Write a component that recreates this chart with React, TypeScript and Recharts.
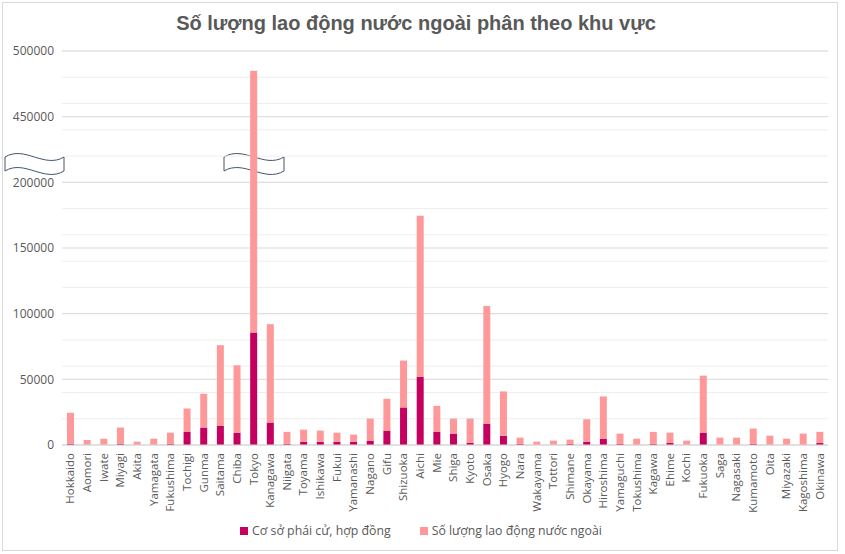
import React from 'react';
import {BarChart, Bar, XAxis, YAxis, CartesianGrid, Legend} from 'recharts';

const prefectures = [
    'Hokkaido', 'Aomori', 'Iwate', 'Miyagi', 'Akita', 'Yamagata', 'Fukushima', 'Tochigi', 'Gunma',
    'Saitama', 'Chiba', 'Tokyo', 'Kanagawa', 'Niigata', 'Toyama', 'Ishikawa', 'Fukui', 'Yamanashi',
    'Nagano', 'Gifu', 'Shizuoka', 'Aichi', 'Mie', 'Shiga', 'Kyoto', 'Osaka', 'Hyogo', 'Nara',
    'Wakayama', 'Tottori', 'Shimane', 'Okayama', 'Hiroshima', 'Yamaguchi', 'Tokushima', 'Kagawa',
    'Ehime', 'Kochi', 'Fukuoka', 'Saga', 'Nagasaki', 'Kumamoto', 'Oita', 'Miyazaki', 'Kagoshima',
    'Okinawa',
];

// "Cơ sở phái cử, hợp đồng"
const dispatchWorkers = [
    800, 200, 200, 800, 200, 200, 800, 10200, 13300,
    14500, 9400, 85700, 17100, 800, 2500, 2500, 2500, 2500,
    3300, 11000, 28600, 52000, 10200, 8700, 1800, 16300, 7100, 800,
    200, 200, 800, 2500, 4800, 800, 200, 800,
    1500, 200, 9400, 200, 200, 800, 200, 200, 200,
    1500,
];

// "Số lượng lao động nước ngoài" (top of each column)
const foreignWorkers = [
    24500, 3800, 4800, 13300, 2500, 4800, 9400, 27800, 39000,
    76000, 60700, 485000, 92000, 10000, 11700, 11000, 9400, 7900,
    20100, 35200, 64300, 174500, 29800, 20100, 20100, 105800, 40800, 5600,
    2500, 3300, 4100, 19600, 37000, 8700, 4800, 10000,
    9400, 3300, 52800, 5600, 5600, 12500, 7100, 4800, 8700,
    10000,
];

const yTicks = [0, 50000, 100000, 150000, 200000, 450000, 500000];

// broken axis: everything above BREAK_TOP is pulled down by BREAK_GAP
const BREAK_TOP = 400000;
const BREAK_GAP = 200000;
const toDisplay = (v: number) => (v > BREAK_TOP ? v - BREAK_GAP : v);
const fromDisplay = (v: number) => (v > BREAK_TOP - BREAK_GAP ? v + BREAK_GAP : v);

const DARK = '#C5005F';
const PINK = '#FF9999';
const TEXT = '#595959';
const FONT = '"Open Sans", "Noto Sans", sans-serif';

const data = prefectures.map((name, i) => ({
    name,
    dispatch: dispatchWorkers[i],
    rest: toDisplay(foreignWorkers[i]) - dispatchWorkers[i],
}));

const minorLines = Array.from({length: 31}, (_, i) => i * 10000);

const XTick = (props: any) => {
    const {x, y, payload} = props;
    return (
        <text x={x} y={y} dy={4} transform={`rotate(-90, ${x}, ${y})`}
              textAnchor="end" fill={TEXT} fontSize={11.5} fontFamily={FONT}>
            {payload.value}
        </text>
    );
};

const LegendContent = () => (
    <div style={{
        display: 'flex', justifyContent: 'center', gap: 29, paddingTop: 7, paddingLeft: 14,
        fontFamily: FONT, fontSize: 12.3, color: TEXT,
    }}>
        {[{c: DARK, t: 'Cơ sở phái cử, hợp đồng'}, {c: PINK, t: 'Số lượng lao động nước ngoài'}].map(e => (
            <div key={e.t} style={{display: 'flex', alignItems: 'center'}}>
                <span style={{width: 8, height: 8, background: e.c, display: 'inline-block', marginRight: 4}}/>
                <span>{e.t}</span>
            </div>
        ))}
    </div>
);

const wave = (x: number, y: number, w: number, h: number) => {
    const a = 12;
    return `M${x},${y} C${x + w / 3},${y - a} ${x + 2 * w / 3},${y + a} ${x + w},${y} L${x + w},${y + h} ` +
        `C${x + 2 * w / 3},${y + h + a} ${x + w / 3},${y + h - a} ${x},${y + h} Z`;
};

const App = () => {
    return (
        <div style={{position: 'absolute', left: 0, top: 0, width: 845, height: 554, background: '#fff'}}>
            <div style={{
                position: 'absolute', left: 2, top: 2, width: 836, height: 549,
                border: '1px solid #d9d9d9', boxSizing: 'border-box',
            }}/>
            <svg width={845} height={554} style={{position: 'absolute', left: 0, top: 0}}>
                <path d={wave(5, 157, 59, 14)} fill="#fff" stroke="#44546A" strokeWidth={1}/>
                <path d={wave(224, 157, 60, 14)} fill="#fff" stroke="#44546A" strokeWidth={1}/>
            </svg>
            <div style={{
                position: 'absolute', left: 0, top: 12, width: 832, textAlign: 'center',
                fontFamily: '"Liberation Sans", Arial, sans-serif', fontWeight: 'bold', fontSize: 20, color: TEXT,
            }}>
                Số lượng lao động nước ngoài phân theo khu vực
            </div>
            <div style={{position: 'absolute', left: 0, top: 0}}>
                <BarChart width={845} height={554} data={data} barSize={7}
                          margin={{top: 51, right: 17, bottom: 6, left: 0}}>
                    <CartesianGrid horizontal vertical={false} stroke="#eeeeee"
                                   horizontalValues={minorLines}/>
                    <CartesianGrid horizontal vertical={false} stroke="#d9d9d9"
                                   horizontalValues={yTicks.map(toDisplay)}/>
                    <XAxis dataKey="name" interval={0} tick={<XTick/>} tickLine={false}
                           axisLine={{stroke: '#d9d9d9'}} height={70}/>
                    <YAxis type="number" domain={[0, 300000]} ticks={yTicks.map(toDisplay)} width={62}
                           tickFormatter={(v: number) => String(fromDisplay(v))}
                           tick={{fill: TEXT, fontSize: 12, fontFamily: FONT}}
                           axisLine={false} tickLine={false}/>
                    <Legend verticalAlign="bottom" height={33} content={<LegendContent/>}/>
                    <Bar dataKey="dispatch" stackId="a" fill={DARK} isAnimationActive={false}/>
                    <Bar dataKey="rest" stackId="a" fill={PINK} isAnimationActive={false}/>
                </BarChart>
            </div>
        </div>
    );
};

export default App;
